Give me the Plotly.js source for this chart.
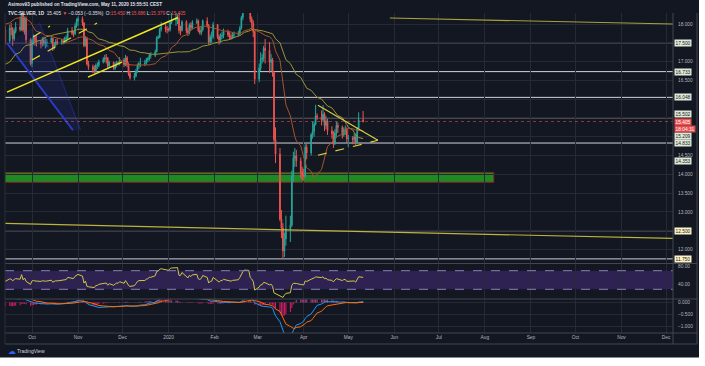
<!DOCTYPE html>
<html><head><meta charset="utf-8">
<script src="https://cdn.plot.ly/plotly-3.0.1.min.js"></script>
<style>html,body{margin:0;padding:0;background:#fff;}#chart{width:705px;height:366px;}</style>
</head><body><div id="chart"></div>
<script>
// ---------------- DATA ----------------
// daily closes before the visible window (used only for indicator warm-up), Jul 1 - Sep 12 2019
const warmupClose = [15.20,15.25,15.25,15.18,14.98,15.03,15.07,15.23,15.27,15.22,15.33,15.20,15.57,16.06,15.97,16.24,16.36,16.40,16.40,16.33,16.38,16.44,16.36,
 16.00,16.22,16.37,16.37,17.09,17.12,17.04,16.99,16.98,17.16,17.31,17.07,17.18,17.24,17.07,17.04,17.46,17.55,17.93,18.26,18.17,18.35,
 18.50,19.10,19.57,18.45,18.15,18.15,18.11,18.03,18.07];

// daily OHLC (open, high, low, close) per month, weekdays
const ohlcSep2019 = [[17.85,17.95,17.45,17.52],[17.55,17.98,17.50,17.89],[17.88,18.03,17.70,17.86],[17.86,17.92,17.42,17.61],[17.60,17.88,17.55,17.81],[17.80,18.05,17.75,17.92],
 [17.92,18.20,17.80,17.85],[17.85,18.70,17.82,18.57],[18.56,18.60,17.78,17.84],[17.85,18.20,17.72,18.16],[18.15,18.20,17.50,17.58],[17.58,17.62,16.90,16.95]];
const ohlcOct2019 = [[16.95,17.62,16.85,17.56],[17.56,17.72,17.45,17.66],[17.66,17.70,17.42,17.55],[17.55,17.70,17.40,17.53],
 [17.53,17.58,17.35,17.47],[17.47,17.65,17.40,17.57],[17.57,17.66,17.42,17.48],[17.48,17.62,17.35,17.50],[17.50,17.60,17.38,17.52],
 [17.52,17.68,17.48,17.62],[17.62,17.64,17.28,17.36],[17.36,17.52,17.32,17.45],[17.45,17.60,17.40,17.53],[17.53,17.62,17.44,17.50],
 [17.50,17.60,17.45,17.55],[17.55,17.62,17.46,17.54],[17.54,17.66,17.48,17.60],[17.60,17.70,17.52,17.63],[17.63,17.90,17.60,17.83],
 [17.83,17.92,17.70,17.75],[17.75,17.82,17.65,17.74],[17.74,18.02,17.70,17.95],[17.95,18.15,17.90,18.08]];
const ohlcNov2019 = [[18.08,18.20,17.95,18.14],
 [18.14,18.20,17.95,18.03],[18.03,18.05,17.38,17.43],[17.43,17.68,17.40,17.61],[17.61,17.65,16.90,16.93],[16.93,17.02,16.78,16.86],
 [16.86,16.92,16.70,16.79],[16.79,16.90,16.68,16.73],[16.73,16.95,16.70,16.90],[16.90,16.98,16.80,16.90],[16.90,17.05,16.85,16.99],
 [16.99,17.12,16.95,17.06],[17.06,17.18,16.98,17.10],[17.10,17.20,16.95,17.09],[17.09,17.12,16.82,16.88],[16.88,17.02,16.85,16.98],
 [16.98,17.00,16.78,16.82],[16.82,16.98,16.78,16.91],[16.91,17.02,16.85,16.97],[16.97,17.00,16.90,16.95],[16.95,17.12,16.90,17.05]];
const ohlcDec2019 = [[17.05,17.10,16.85,16.92],[16.92,17.18,16.88,17.10],[17.10,17.15,16.85,16.92],[16.92,16.98,16.62,16.68],[16.68,16.75,16.52,16.57],
 [16.57,16.70,16.50,16.62],[16.62,16.80,16.58,16.74],[16.74,16.95,16.70,16.89],[16.89,17.00,16.80,16.95],[16.95,17.10,16.85,16.95],
 [16.95,17.05,16.88,16.96],[16.96,17.10,16.92,17.04],[17.04,17.12,16.98,17.07],[17.07,17.22,17.02,17.16],[17.16,17.25,17.08,17.16],
 [17.16,17.32,17.12,17.26],[17.26,17.68,17.24,17.63],[17.63,17.70,17.60,17.65],[17.65,17.90,17.62,17.86],[17.86,18.05,17.80,17.92],
 [17.92,18.00,17.78,17.86],[17.86,17.95,17.75,17.85]];
const ohlcJan2020 = [[17.85,17.90,17.80,17.85],[17.85,18.10,17.80,18.04],[18.04,18.30,18.00,18.10],
 [18.10,18.40,17.95,18.12],[18.12,18.25,18.00,18.15],[18.15,18.45,17.75,17.83],[17.83,17.95,17.70,17.83],[17.83,18.10,17.80,18.06],
 [18.06,18.10,17.75,17.81],[17.81,17.90,17.68,17.77],[17.77,18.02,17.72,17.97],[17.97,18.05,17.82,17.90],[17.90,18.10,17.85,18.04],
 [18.04,18.15,18.00,18.08],[18.08,18.12,17.78,17.82],[17.82,17.92,17.72,17.77],[17.77,17.95,17.70,17.85],[17.85,18.12,17.80,18.08],
 [18.08,18.18,17.90,17.96],[17.96,18.00,17.45,17.52],[17.52,17.72,17.48,17.65],[17.65,17.80,17.50,17.66],[17.66,18.05,17.60,17.98]];
const ohlcFeb2020 = [[17.98,18.00,17.60,17.66],[17.66,17.72,17.45,17.57],[17.57,17.75,17.50,17.68],[17.68,17.80,17.60,17.70],[17.70,17.88,17.62,17.79],
 [17.79,17.85,17.65,17.71],[17.71,17.78,17.60,17.66],[17.66,17.75,17.58,17.65],[17.65,17.78,17.60,17.70],[17.70,17.80,17.62,17.71],
 [17.71,17.82,17.68,17.74],[17.74,17.95,17.70,17.89],[17.89,18.22,17.85,18.17],[18.17,18.50,18.10,18.40],[18.40,18.75,18.35,18.60],
 [18.60,18.94,18.40,18.58],[18.58,18.60,18.05,18.13],[18.13,18.20,17.85,18.02],[18.02,18.10,17.65,17.80],[17.80,17.82,16.40,16.53]];
const ohlcMar2020 = [[16.53,16.95,16.45,16.83],[16.83,17.25,16.75,17.07],[17.07,17.20,16.95,17.09],[17.09,17.42,17.00,17.35],[17.35,17.60,16.95,17.30],
 [17.30,17.52,16.70,16.98],[16.98,17.20,16.75,17.05],[17.05,17.10,16.60,16.70],[16.70,16.75,14.85,14.92],[14.92,15.25,14.30,14.54],
 [14.54,14.70,12.75,12.80],[12.80,13.05,12.30,12.57],[12.57,12.70,11.76,11.96],[11.96,12.45,11.80,12.28],[12.28,12.90,12.10,12.55],
 [12.55,12.90,12.20,12.65],[12.65,14.10,12.60,13.97],[13.97,14.60,13.80,14.43],[14.43,14.70,14.20,14.49],[14.49,14.65,14.20,14.36],
 [14.36,14.45,13.90,14.06],[14.06,14.20,13.85,13.97]];
const ohlcApr2020 = [[13.97,14.15,13.82,13.95],[13.95,14.80,13.90,14.72],[14.72,14.80,14.40,14.57],
 [14.57,15.10,14.50,15.05],[15.05,15.40,14.95,15.14],[15.14,15.40,15.00,15.33],[15.33,15.85,15.30,15.55],[15.55,15.62,15.45,15.52],
 [15.52,15.70,15.30,15.45],[15.45,15.84,15.40,15.60],[15.60,15.65,15.15,15.30],[15.30,15.55,15.20,15.42],[15.42,15.48,15.05,15.16],
 [15.16,15.28,14.95,15.08],[15.08,15.15,14.70,14.82],[14.82,15.20,14.78,15.10],[15.10,15.40,15.00,15.30],[15.30,15.38,15.10,15.25],
 [15.25,15.30,14.95,15.05],[15.05,15.25,15.00,15.18],[15.18,15.30,15.05,15.20],[15.20,15.25,14.85,14.95]];
const ohlcMay2020 = [[14.95,15.05,14.72,14.96],[14.96,15.02,14.80,14.93],[14.93,15.10,14.85,14.99],[14.99,15.05,14.78,14.85],
 [14.85,15.25,14.82,15.22],[15.22,15.65,15.20,15.458],[15.45,15.686,15.379,15.405]];

// horizontal levels drawn by the author
const levelPrices = [17.5, 16.733, 16.048, 15.502, 14.833, 12.5, 11.75];
// support zone
const zoneDates = ['2019-09-01', '2020-08-07'];
const zonePrices = [13.79, 14.05];
// trend lines: [date, price] end points
const trendLong = [['2019-09-14 04:00', 16.187], ['2020-01-07 07:00', 18.173]];
const trendLowChannel = [['2019-11-07 17:00', 16.587], ['2019-11-30 14:00', 16.987]];
const trendDashA = [['2019-10-01 00:00', 17.04], ['2019-11-13 19:00', 18.027]];
const trendDashB = [['2019-10-01 17:00', 17.653], ['2019-10-13 03:00', 17.947]];
const trendTopRight = [['2020-05-29 00:00', 18.16], ['2020-12-06 00:00', 18.0]];
const trendBottom = [['2019-09-12 19:00', 12.693], ['2020-12-06 00:00', 12.293]];
const triUpper = [['2020-04-10 14:00', 15.84], ['2020-05-21 00:00', 14.907]];
const triLower = [['2020-04-10 14:00', 14.507], ['2020-05-21 00:00', 14.907]];
const blueA = [['2019-09-14 05:00', 17.493], ['2019-10-28 14:00', 15.173]];
const blueB = [['2019-10-06 02:00', 18.027], ['2019-11-02 17:00', 15.173]];
// price-scale labels
const boxPrices = [17.5, 16.733, 16.048, 15.502, 15.209, 14.833, 14.353, 12.5, 11.75];
const lastPrice = 15.405;
const countdown = '18:04:31';
// price ticks (those hidden under a label box are left blank)
const priceTicks = [18, 17.5, 17, 16.5, 16, 15.5, 15, 14.5, 14, 13.5, 13, 12.5, 12];
const priceTickText = ['18.000', '', '17.000', '16.500', '', '', '', '14.500', '14.000', '13.500', '13.000', '', '12.000'];
// time axis
const monthTicks = ['2019-10-01','2019-11-01','2019-12-01','2020-01-01','2020-02-01','2020-03-01','2020-04-01','2020-05-01','2020-06-01','2020-07-01','2020-08-01','2020-09-01','2020-10-01','2020-11-01','2020-12-01'];
const monthLabels = ['Oct','Nov','Dec','2020','Feb','Mar','Apr','May','Jun','Jul','Aug','Sep','Oct','Nov','Dec'];

// ---------------- BUILD ----------------
function weekdays(a, b){
  const out=[]; let d=new Date(a+'T00:00:00Z'); const e=new Date(b+'T00:00:00Z');
  while(d<=e){ const w=d.getUTCDay(); if(w!==0&&w!==6) out.push(d.toISOString().slice(0,10)); d=new Date(d.getTime()+86400000); }
  return out;
}
const ohlc = [].concat(ohlcSep2019,ohlcOct2019,ohlcNov2019,ohlcDec2019,ohlcJan2020,ohlcFeb2020,ohlcMar2020,ohlcApr2020,ohlcMay2020);
const dates = weekdays('2019-09-13','2020-05-11');
const warmDates = weekdays('2019-07-01','2019-09-12');
if (dates.length!==ohlc.length || warmDates.length!==warmupClose.length) console.error('length mismatch', dates.length, ohlc.length, warmDates.length, warmupClose.length);
const opens=ohlc.map(r=>r[0]), highs=ohlc.map(r=>r[1]), lows=ohlc.map(r=>r[2]), closes=ohlc.map(r=>r[3]);
const allClose = warmupClose.concat(closes);
const allDates = warmDates.concat(dates);

function sma(a,n){ return a.map((v,i)=> i<n-1?null: a.slice(i-n+1,i+1).reduce((s,x)=>s+x,0)/n); }
function ema(a,n){ const k=2/(n+1); let e=null; return a.map(v=>{ if(v==null) return null; e = e==null? v : v*k + e*(1-k); return e; }); }
function rsi(a,n){ const out=[null]; let ag=0, al=0;
  for(let i=1;i<a.length;i++){ const ch=a[i]-a[i-1]; const g=Math.max(ch,0), l=Math.max(-ch,0);
    if(i<=n){ ag+=g/n; al+=l/n; out.push(i===n? 100-100/(1+ag/al): null); }
    else { ag=(ag*(n-1)+g)/n; al=(al*(n-1)+l)/n; out.push(100-100/(1+ag/al)); } }
  return out; }
const sma20 = sma(allClose,20), sma50 = sma(allClose,50);
const e12 = ema(allClose,12), e26 = ema(allClose,26);
const macd = e12.map((v,i)=>v-e26[i]);
const signal = ema(macd,9);
const hist = macd.map((v,i)=>v-signal[i]);
const rsi14 = rsi(allClose,14);

// pixel helpers for frame / text placement
const pxX = px => (px-5)/668;
const pxY = py => (333-py)/320;
const FONT = 'Liberation Sans, Arial, sans-serif';

const traces = [];
// blue channel fill
traces.push({x:[blueA[0][0],blueA[1][0],blueB[1][0],blueB[0][0],blueA[0][0]], y:[blueA[0][1],blueA[1][1],blueB[1][1],blueB[0][1],blueA[0][1]],
  type:'scatter', mode:'lines', fill:'toself', fillcolor:'rgba(41,64,200,0.14)', line:{width:0}, hoverinfo:'skip', xaxis:'x', yaxis:'y'});
traces.push({x:blueB.map(p=>p[0]), y:blueB.map(p=>p[1]), type:'scatter', mode:'lines', line:{color:'rgba(50,70,220,0.35)', width:1.2}, hoverinfo:'skip'});
traces.push({x:blueA.map(p=>p[0]), y:blueA.map(p=>p[1]), type:'scatter', mode:'lines', line:{color:'#2b3bc4', width:2}, hoverinfo:'skip'});
// moving averages
traces.push({x:allDates, y:sma50, type:'scatter', mode:'lines', line:{color:'#9c9539', width:1}, hoverinfo:'skip'});
traces.push({x:allDates, y:sma20, type:'scatter', mode:'lines', line:{color:'#a8532c', width:1}, hoverinfo:'skip'});
// candles
traces.push({type:'candlestick', x:dates, open:opens, high:highs, low:lows, close:closes, xaxis:'x', yaxis:'y',
  increasing:{line:{color:'#26a69a', width:1}, fillcolor:'#26a69a'},
  decreasing:{line:{color:'#ef5350', width:1}, fillcolor:'#ef5350'}, whiskerwidth:0, hoverinfo:'skip'});
// trend lines
function tl(pts, color, width, dash){ return {x:pts.map(p=>p[0]), y:pts.map(p=>p[1]), type:'scatter', mode:'lines', line:{color:color, width:width, dash:dash||'solid'}, hoverinfo:'skip', xaxis:'x', yaxis:'y'}; }
traces.push(tl(trendLong,'#f2e71d',1.6));
traces.push(tl(trendLowChannel,'#f2e71d',1.4));
traces.push(tl(trendDashA,'#e8dc2a',1.2,'dash'));
traces.push(tl(trendDashB,'#e8dc2a',1.2,'dash'));
traces.push(tl(trendTopRight,'#a9a23a',1.2));
traces.push(tl(trendBottom,'#bdb43a',1.2));
traces.push(tl(triUpper,'#d8cf3a',1.2));
traces.push(tl(triLower,'#d8cf3a',1.2,'dash'));
// RSI
traces.push({x:allDates, y:rsi14, type:'scatter', mode:'lines', line:{color:'#cfc64a', width:1}, hoverinfo:'skip', xaxis:'x', yaxis:'y2'});
// MACD
traces.push({x:allDates, y:hist, type:'bar', marker:{color:hist.map(v=>v>=0?'#b0407e':'#d81b6a')}, hoverinfo:'skip', xaxis:'x', yaxis:'y3'});
traces.push({x:allDates, y:macd, type:'scatter', mode:'lines', line:{color:'#2196f3', width:1}, hoverinfo:'skip', xaxis:'x', yaxis:'y3'});
traces.push({x:allDates, y:signal, type:'scatter', mode:'lines', line:{color:'#ff6d00', width:1}, hoverinfo:'skip', xaxis:'x', yaxis:'y3'});

const shapes = [];
shapes.push({type:'rect', xref:'paper', yref:'paper', x0:pxX(0), x1:pxX(699), y0:pxY(357.5), y1:pxY(0), fillcolor:'#131722', line:{width:0}, layer:'below'});
// zone
shapes.push({type:'rect', xref:'x', yref:'y', x0:zoneDates[0], x1:zoneDates[1], y0:zonePrices[0], y1:zonePrices[1], fillcolor:'#1f8a24', line:{color:'#8a2424', width:1}, layer:'below'});
// levels
const levelColor = ['#8c8f99','#d1d4dc','#d1d4dc','#9a9da6','#d1d4dc','#d1d4dc','#c9ccd4'];
levelPrices.forEach((p,i)=> shapes.push({type:'line', xref:'paper', yref:'y', x0:0, x1:1, y0:p, y1:p, line:{color:levelColor[i], width:1}, layer:'below'}));
shapes.push({type:'line', xref:'paper', yref:'y', x0:0, x1:1, y0:lastPrice, y1:lastPrice, line:{color:'rgba(239,83,80,0.55)', width:1, dash:'dot'}});
// RSI band
shapes.push({type:'rect', xref:'paper', yref:'y2', x0:0, x1:1, y0:30, y1:70, fillcolor:'rgba(103,58,183,0.32)', line:{width:0}, layer:'below'});
[70,30].forEach(v=>shapes.push({type:'line', xref:'paper', yref:'y2', x0:0, x1:1, y0:v, y1:v, line:{color:'#8b80b8', width:1, dash:'dash'}}));
// frame
const fr = '#434651';
shapes.push({type:'line', xref:'paper', yref:'paper', x0:1, x1:1, y0:pxY(13), y1:pxY(344), line:{color:fr, width:1}});
shapes.push({type:'line', xref:'paper', yref:'paper', x0:pxX(697), x1:pxX(697), y0:pxY(13), y1:pxY(344), line:{color:fr, width:1}});
shapes.push({type:'line', xref:'paper', yref:'paper', x0:pxX(5), x1:pxX(697), y0:pxY(344), y1:pxY(344), line:{color:fr, width:1}});
shapes.push({type:'line', xref:'paper', yref:'paper', x0:pxX(5), x1:pxX(697), y0:pxY(333), y1:pxY(333), line:{color:fr, width:1}});
shapes.push({type:'line', xref:'paper', yref:'paper', x0:pxX(5), x1:pxX(697), y0:pxY(263.5), y1:pxY(263.5), line:{color:fr, width:1}});
shapes.push({type:'line', xref:'paper', yref:'paper', x0:pxX(5), x1:pxX(697), y0:pxY(299), y1:pxY(299), line:{color:fr, width:1}});
shapes.push({type:'line', xref:'paper', yref:'paper', x0:0, x1:0, y0:pxY(13), y1:pxY(344), line:{color:'#2a2e39', width:1}});

const annotations = [];
annotations.push({xref:'paper', yref:'paper', x:pxX(6), y:pxY(4.5), xanchor:'left', yanchor:'middle', showarrow:false,
  text:'<b>Asimov93 published on TradingView.com, May 11, 2020 15:55:51 CEST</b>', font:{family:FONT, size:4.6, color:'#e0e3eb'}});
const R = c=>'<span style="color:#ef5350">'+c+'</span>';
annotations.push({xref:'paper', yref:'paper', x:pxX(6), y:pxY(13.5), xanchor:'left', yanchor:'middle', showarrow:false,
  text:'<b>TVC:SILVER, 1D</b>  15.405 '+R('▼')+' −0.053 (−0.35%)  O:'+R('15.450')+' H:'+R('15.686')+' L:'+R('15.379')+' C:'+R('15.405'),
  font:{family:FONT, size:4.7, color:'#e0e3eb'}});
// price labels
const boxShift = {15.502:3.5, 15.209:-7};
const boxBg = p => (p===12.5||p===11.75) ? '#fdf3c8' : '#dfe9d8';
boxPrices.forEach(p=> annotations.push({xref:'paper', yref:'y', x:pxX(674), y:p, yshift:boxShift[p]||0, xanchor:'left', yanchor:'middle', showarrow:false,
  text:p.toFixed(3), bgcolor:boxBg(p), borderpad:0.6, font:{family:FONT, size:4.8, color:'#131722'}}));
annotations.push({xref:'paper', yref:'y', x:pxX(674), y:lastPrice, xanchor:'left', yanchor:'middle', showarrow:false,
  text:lastPrice.toFixed(3), bgcolor:'#ef5350', borderpad:0.6, font:{family:FONT, size:4.8, color:'#ffffff'}});
annotations.push({xref:'paper', yref:'y', x:pxX(674), y:lastPrice, yshift:-7, xanchor:'left', yanchor:'middle', showarrow:false,
  text:countdown, bgcolor:'#e04b4e', borderpad:0.6, font:{family:FONT, size:4.8, color:'#ffffff'}});
// logo
annotations.push({xref:'paper', yref:'paper', x:pxX(5.5), y:pxY(351), xanchor:'left', yanchor:'middle', showarrow:false,
  text:'☁', font:{family:'DejaVu Sans', size:8, color:'#2962ff'}});
annotations.push({xref:'paper', yref:'paper', x:pxX(15), y:pxY(351), xanchor:'left', yanchor:'middle', showarrow:false,
  text:'TradingView', font:{family:FONT, size:5, color:'#d1d4dc'}});

const tickFont = {family:FONT, size:4.8, color:'#b2b5be'};
const grid = '#262a35';
const layout = {
  width:705, height:366, margin:{l:5, r:32, t:13, b:33},
  paper_bgcolor:'#ffffff', plot_bgcolor:'rgba(0,0,0,0)', showlegend:false, hovermode:false, bargap:0.3,
  xaxis:{type:'date', range:['2019-09-12 19:37','2020-12-05 16:48'], anchor:'y3', tickvals:monthTicks, ticktext:monthLabels,
    showgrid:true, gridcolor:grid, gridwidth:1, ticks:'', tickfont:tickFont, showline:false, zeroline:false, rangeslider:{visible:false}, fixedrange:true},
  yaxis:{domain:[pxY(263.5),1], range:[11.627,18.293], side:'right', anchor:'x', tickvals:priceTicks, ticktext:priceTickText,
    showgrid:true, gridcolor:grid, tickfont:tickFont, ticks:'', zeroline:false, ticklabelstandoff:4},
  yaxis2:{domain:[pxY(299),pxY(264)], range:[9.1,84.4], side:'right', anchor:'x', tickvals:[80,40], ticktext:['80.00','40.00'],
    showgrid:false, tickfont:tickFont, ticks:'', zeroline:false, ticklabelstandoff:4},
  yaxis3:{domain:[0,pxY(299.5)], range:[-1.29,0.125], side:'right', anchor:'x', tickvals:[0,-0.5,-1], ticktext:['0.000','−0.500','−1.000'],
    showgrid:true, gridcolor:grid, tickfont:tickFont, ticks:'', zeroline:false, ticklabelstandoff:4},
  shapes:shapes, annotations:annotations
};
Plotly.newPlot('chart', traces, layout, {staticPlot:true, displayModeBar:false});
</script></body></html>
